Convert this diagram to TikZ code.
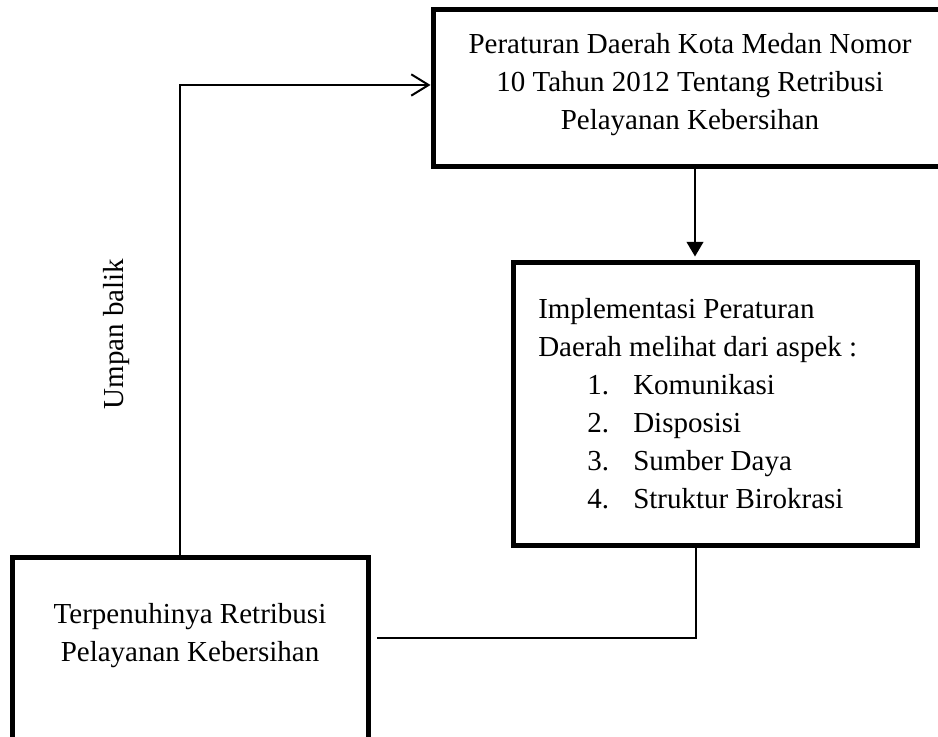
\documentclass[tikz,border=0pt]{standalone}
\usepackage{fontspec}
\setmainfont{Liberation Serif}
\usetikzlibrary{arrows.meta,fit,calc}
\begin{document}
\begin{tikzpicture}[x=0.75pt,y=-0.75pt,
  box/.style={draw,line width=3.75pt,inner sep=0pt,rectangle},
  txt/.style={font=\fontsize{21.75}{28.5}\selectfont,inner sep=0pt},
  conn/.style={line width=1.5pt}]
\useasboundingbox (0,0) rectangle (938,737);
\clip (0,0) rectangle (938,737);
\node[box,fit={(433,10) (975,167)}] (b1) {};
\node[box,fit={(513,263) (917,545)}] (b2) {};
\node[box,fit={(12,557) (368,790)}] (b3) {};
\node[txt,align=center] (t1) at (690,85) {Peraturan Daerah Kota Medan Nomor\\10 Tahun 2012 Tentang Retribusi\\Pelayanan Kebersihan};
\node[txt,align=left,anchor=west] (t2) at (538,404) {Implementasi Peraturan\\Daerah melihat dari aspek :\\
\hspace*{36.75pt}\makebox[34.5pt][l]{1.}Komunikasi\\
\hspace*{36.75pt}\makebox[34.5pt][l]{2.}Disposisi\\
\hspace*{36.75pt}\makebox[34.5pt][l]{3.}Sumber Daya\\
\hspace*{36.75pt}\makebox[34.5pt][l]{4.}Struktur Birokrasi};
\node[txt,align=center] (t3) at (190,636) {Terpenuhinya Retribusi\\Pelayanan Kebersihan};
\node[txt,rotate=90] (lbl) at (117,334) {Umpan balik};
\draw[conn,-{Triangle[length=11pt,width=12.5pt]},shorten >=3pt] (695,0 |- b1.south) -- (695,0 |- b2.north);
\draw[conn,shorten >=4.5pt] (696,0 |- b2.south) |- (b3.east |- 0,638);
\draw[conn,-{Straight Barb[length=13pt,width=16pt]}] (180,0 |- b3.north) |- (b1.west |- 0,85);
\end{tikzpicture}
\end{document}
